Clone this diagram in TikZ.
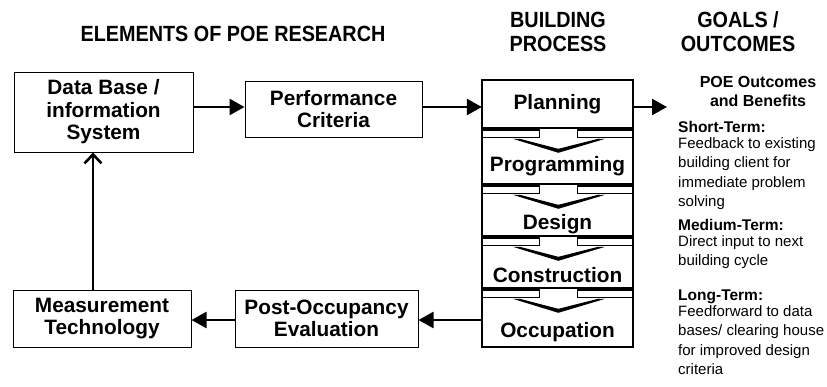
\documentclass[tikz,border=0pt]{standalone}
\usepackage{fontspec}
\setmainfont{Liberation Sans}
\newfontfamily\headfont{Liberation Sans}[FakeStretch=0.9]
\usetikzlibrary{arrows.meta}
\begin{document}
\begin{tikzpicture}[x=1pt,y=-1pt,
  heading/.style={font=\headfont\fontsize{22}{24}\selectfont\bfseries, anchor=base, inner sep=0pt},
  elem/.style={draw=black, line width=1pt, align=center, inner sep=0pt,
    font=\fontsize{20.8}{22.5}\selectfont\bfseries},
  stagebox/.style={draw=none, inner sep=0pt},
  stagetext/.style={font=\fontsize{20.8}{23}\selectfont\bfseries, anchor=base, inner sep=0pt},
  outline/.style={line width=2.2pt, line join=miter},
  tab/.style={line width=1pt},
  flow/.style={line width=2.6pt, -{Triangle[length=15pt,width=16pt]}},
  feed/.style={line width=2.6pt, -{Straight Barb[length=9pt,width=17pt,line width=2.6pt]}},
  body/.style={font=\fontsize{15}{19.5}\selectfont, align=left, anchor=base west, inner sep=0pt},
  subhead/.style={font=\fontsize{15.5}{19.5}\selectfont\bfseries, anchor=base west, inner sep=0pt},
]
\useasboundingbox (0,0) rectangle (827,386);

% column headings
\node[heading] (h1) at (233,41) {ELEMENTS OF POE RESEARCH};
\node[heading] (h2) at (558,27) {BUILDING};
\node[heading] (h3) at (558,51) {PROCESS};
\node[heading] (h4) at (738,27) {GOALS /};
\node[heading] (h5) at (738,51) {OUTCOMES};

% elements of POE research
\node[elem, minimum width=179pt, minimum height=80pt] (db) at (103.5,112) {Data Base /\\information\\System};
\node[elem, minimum width=177pt, minimum height=56pt] (pc) at (333.5,109) {Performance\\Criteria};
\node[elem, minimum width=178pt, minimum height=57pt] (mt) at (102,318.5) {Measurement\\Technology};
\node[elem, minimum width=183pt, minimum height=57pt] (po) at (326.5,318.5) {Post-Occupancy\\Evaluation};

% building process stages (frames drawn below)
\node[stagebox, minimum width=151pt, minimum height=48pt] (plan) at (557.5,104) {};
\node[stagebox, minimum width=151pt, minimum height=54pt] (prog) at (557.5,157) {};
\node[stagebox, minimum width=151pt, minimum height=50pt] (des)  at (557.5,211) {};
\node[stagebox, minimum width=151pt, minimum height=50pt] (cons) at (557.5,263) {};
\node[stagebox, minimum width=151pt, minimum height=57pt] (occ)  at (557.5,318.5) {};

\draw[outline] (plan.north west) rectangle (plan.south east);
\foreach \n in {prog,des,cons,occ}{
  % outer frame, open in the middle of the top edge
  \draw[outline] ([xshift=58pt]\n.north west) -- (\n.north west) -- (\n.south west)
    -- (\n.south east) -- (\n.north east) -- ([xshift=-56pt]\n.north east);
  % the two shoulders of the block arrow
  \draw[tab] ([yshift=-8pt]\n.north west) -- ++(58,0) -- ++(0,-8);
  \draw[tab] ([yshift=-8pt]\n.north east) -- ++(-56,0) -- ++(0,-8);
  % arrow head pointing into the stage
  \fill ([xshift=31pt,yshift=-9pt]\n.north west) -- ([xshift=76.5pt,yshift=-23pt]\n.north west)
    -- ([xshift=-28pt,yshift=-9pt]\n.north east) -- ([xshift=-35pt,yshift=-9pt]\n.north east)
    -- ([xshift=76.5pt,yshift=-19pt]\n.north west) -- ([xshift=38pt,yshift=-9pt]\n.north west) -- cycle;
}

\node[stagetext] (plan-t) at (557.5,109.5) {Planning};
\node[stagetext] (prog-t) at (557.5,171) {Programming};
\node[stagetext] (des-t)  at (557.5,229) {Design};
\node[stagetext] (cons-t) at (557.5,282) {Construction};
\node[stagetext] (occ-t)  at (557.5,337) {Occupation};

% connectors
\coordinate (goal) at (667,107);
\draw[flow] ([yshift=5pt]db.east) -- ([yshift=5pt]db.east -| pc.west);
\draw[flow] ([yshift=2pt]pc.east) -- ([yshift=2pt]pc.east -| plan.west);
\draw[flow] ([yshift=-3pt]plan.east) -- (goal);
\draw[flow] ([yshift=-1.5pt]occ.west) -- ([yshift=-1.5pt]occ.west -| po.east);
\draw[flow] ([yshift=-1.5pt]po.west) -- ([yshift=-1.5pt]po.west -| mt.east);
\draw[feed] ([xshift=-9pt]mt.north) -- ([xshift=-9pt]mt.north |- db.south);

% goals / outcomes
\node[font=\fontsize{16}{19}\selectfont\bfseries, align=center, anchor=north, inner sep=0pt] (poe) at (758,76)
  {POE Outcomes\\and Benefits};
\node[subhead] (st) at (678,132) {Short-Term:};
\node[body, anchor=north west] (st-b) at ([yshift=-5pt]st.base west) {Feedback to existing\\building client for\\immediate problem\\solving};
\node[subhead] (mt-h) at (678,230) {Medium-Term:};
\node[body, anchor=north west] (mt-b) at ([yshift=-5pt]mt-h.base west) {Direct input to next\\building cycle};
\node[subhead] (lt) at (678,300) {Long-Term:};
\node[body, anchor=north west] (lt-b) at ([yshift=-5pt]lt.base west) {Feedforward to data\\bases/ clearing house\\for improved design\\criteria};
\end{tikzpicture}
\end{document}
